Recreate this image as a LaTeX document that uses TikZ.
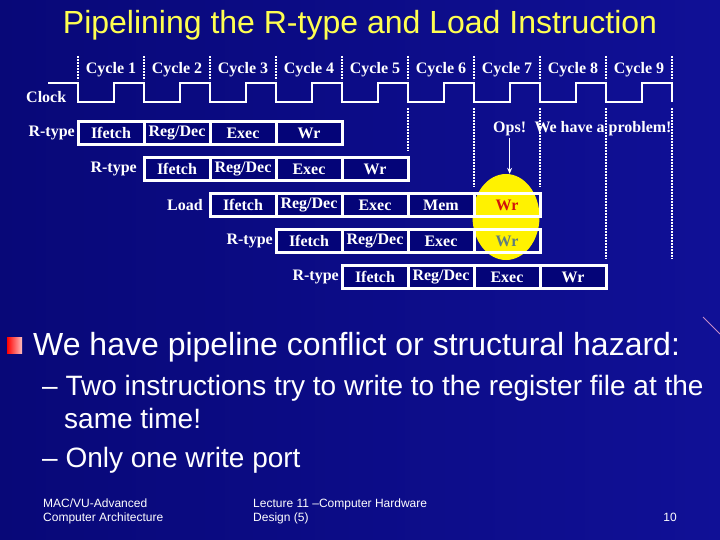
\documentclass[tikz,border=0pt]{standalone}
\usepackage{fontspec}
\setmainfont{Liberation Serif}
\setsansfont{Liberation Sans}
\usetikzlibrary{arrows.meta, positioning, shapes.geometric}

\definecolor{slidebg}{RGB}{16,16,150}
\definecolor{slidebgdark}{RGB}{8,8,120}
\definecolor{cellbg}{RGB}{4,4,120}
\definecolor{titleyellow}{RGB}{255,255,80}
\definecolor{wrred}{RGB}{210,20,10}
\definecolor{wrgray}{RGB}{95,125,125}

\newcommand{\stagefont}{\bfseries\fontsize{16}{18}\selectfont}
\newcommand{\headfont}{\sffamily\fontsize{32}{36}\selectfont}
\newcommand{\mainfont}{\sffamily\fontsize{32}{36}\selectfont}
\newcommand{\subfont}{\sffamily\fontsize{28}{32}\selectfont}
\newcommand{\footfont}{\sffamily\fontsize{12}{14}\selectfont}

\begin{document}
\begin{tikzpicture}[x=1pt, y=-1pt,
			% Gaya untuk sel tahap pipeline
			stage/.style={
				rectangle,
				draw=white,
				fill=cellbg,
				line width=3pt,
				minimum width=66pt,
				minimum height=23pt,
				inner sep=0pt,
				outer sep=0pt,
				text=white,
				font=\stagefont
			},
			rowname/.style={
				text=white,
				font=\stagefont,
				inner sep=1pt
			},
			% Gaya untuk garis jam dan batas siklus
			tick/.style={
				white,
				line width=2.5pt,
				dash pattern=on 2pt off 1pt
			},
			clockline/.style={
				white,
				line width=2.5pt
			},
			% Gaya untuk panah
			arrow/.style={
				-{Stealth[length=6pt, width=5pt]},
				white,
				line width=1.2pt
			}
			]
			
			% Latar belakang slide
			\useasboundingbox (0,0) rectangle (720,540);
			\shade[left color=slidebgdark, right color=slidebg] (0,0) rectangle (720,540);
			\draw[violet!45!white, line width=0.8pt] (703,317) -- (720,334);
			
			% Judul
			\node[text=titleyellow, font=\headfont, anchor=base] (title) at (360,34)
				{Pipelining the R-type and Load Instruction};
			
			% Siklus dan sinyal jam
			\foreach \i in {0,...,9}
				\draw[tick] ({78+66*\i},56) -- ({78+66*\i},80);
			\foreach \i in {1,...,9}
				\node[rowname, anchor=base] (cyc\i) at ({45+66*\i},74) {Cycle \i};
			\node[rowname, anchor=base west] (clk) at (25,103) {Clock};
			\draw[clockline] (48,83) -- (78,83) -- (78,102)
				\foreach \i in {0,...,8} {
					-- ({114+66*\i},102) -- ({114+66*\i},83)
					-- ({144+66*\i},83) -- ({144+66*\i},102)
				};
			\foreach \x/\y in {408/151, 474/187, 540/187, 606/259, 672/259}
				\draw[tick] (\x,108) -- (\x,\y);
			
			% Konflik penulisan
			\node[ellipse, fill=yellow, minimum width=67pt, minimum height=86pt, inner sep=0pt] (hazard) at (506,217) {};
			\node[rowname, anchor=base west] (ops) at (492,133) {Ops!};
			\node[rowname, base right=6pt of ops] (problem) {We have a problem!};
			\draw[arrow] (ops.south) -- (ops.south |- hazard.north);
			
			% Instruksi 1: R-type
			\node[stage] (r1if) at (111,133) {Ifetch};
			\node[stage, right=0pt of r1if] (r1rd) {Reg/Dec};
			\node[stage, right=0pt of r1rd] (r1ex) {Exec};
			\node[stage, right=0pt of r1ex] (r1wr) {Wr};
			\node[rowname, left=2pt of r1if] (n1) {R-type};
			
			% Instruksi 2: R-type
			\node[stage] (r2if) at (177,169) {Ifetch};
			\node[stage, right=0pt of r2if] (r2rd) {Reg/Dec};
			\node[stage, right=0pt of r2rd] (r2ex) {Exec};
			\node[stage, right=0pt of r2ex] (r2wr) {Wr};
			\node[rowname, left=6pt of r2if] (n2) {R-type};
			
			% Instruksi 3: Load
			\node[stage] (r3if) at (243,205) {Ifetch};
			\node[stage, right=0pt of r3if] (r3rd) {Reg/Dec};
			\node[stage, right=0pt of r3rd] (r3ex) {Exec};
			\node[stage, right=0pt of r3ex] (r3mem) {Mem};
			\node[stage, fill=none, text=wrred, right=0pt of r3mem] (r3wr) {Wr};
			\node[rowname, left=6pt of r3if] (n3) {Load};
			
			% Instruksi 4: R-type
			\node[stage] (r4if) at (309,241) {Ifetch};
			\node[stage, right=0pt of r4if] (r4rd) {Reg/Dec};
			\node[stage, right=0pt of r4rd] (r4ex) {Exec};
			\node[stage, fill=none, text=wrgray, right=0pt of r4ex] (r4wr) {Wr};
			\node[rowname, left=2pt of r4if] (n4) {R-type};
			
			% Instruksi 5: R-type
			\node[stage] (r5if) at (375,277) {Ifetch};
			\node[stage, right=0pt of r5if] (r5rd) {Reg/Dec};
			\node[stage, right=0pt of r5rd] (r5ex) {Exec};
			\node[stage, right=0pt of r5ex] (r5wr) {Wr};
			\node[rowname, left=2pt of r5if] (n5) {R-type};
			
			% Teks penjelasan
			\shade[left color=red, right color=red!25!white] (7,337) rectangle (22,353);
			\node[text=white, font=\mainfont, inner sep=0pt, anchor=base west] (hazardtxt) at (33,355)
				{We have pipeline conflict or structural hazard:};
			\node[text=white, font=\subfont, inner sep=0pt, anchor=base west] (two) at (42,395)
				{-- Two instructions try to write to the register file at the};
			\node[text=white, font=\subfont, inner sep=0pt, anchor=base west] (same) at (64,428)
				{same time!};
			\node[text=white, font=\subfont, inner sep=0pt, anchor=base west] (port) at (42,467)
				{-- Only one write port};
			
			% Kaki slide
			\node[text=white, font=\footfont, inner sep=0pt, anchor=base west] (course) at (43,507)
				{MAC/VU-Advanced};
			\node[text=white, font=\footfont, inner sep=0pt, anchor=base west] (course2) at (43,521)
				{Computer Architecture};
			\node[text=white, font=\footfont, inner sep=0pt, anchor=base west] (lecture) at (253,507)
				{Lecture 11 --Computer Hardware};
			\node[text=white, font=\footfont, inner sep=0pt, anchor=base west] (lecture2) at (253,521)
				{Design (5)};
			\node[text=white, font=\footfont, inner sep=0pt, anchor=base east] (page) at (677,521) {10};
			
		\end{tikzpicture}
\end{document}
